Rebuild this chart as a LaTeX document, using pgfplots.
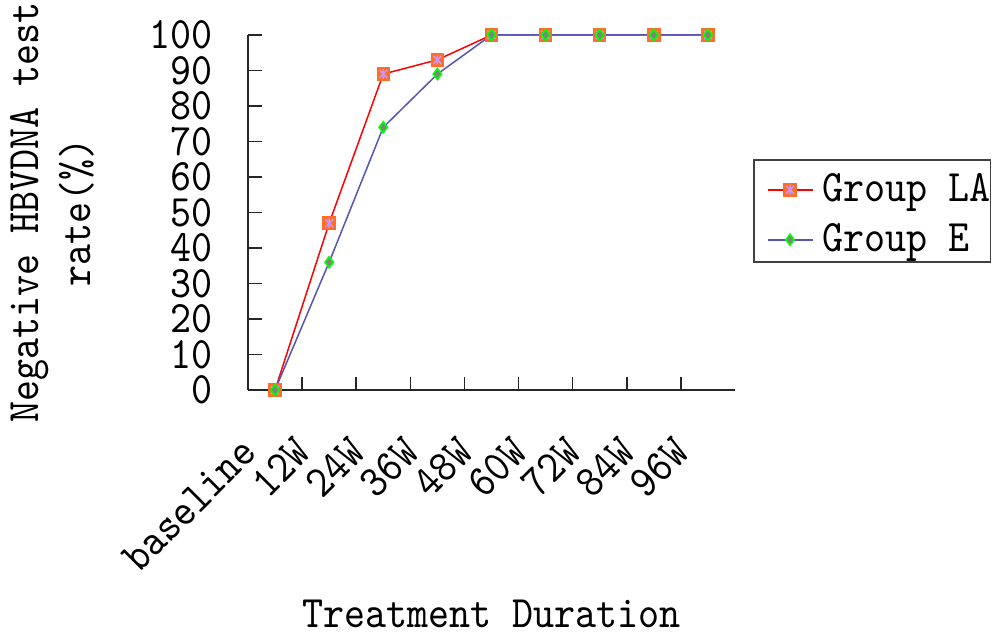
\documentclass[border=0pt]{standalone}
\usepackage{pgfplots}
\pgfplotsset{compat=1.18}
\usepackage{fontspec}
\setmainfont[FakeStretch=0.89]{lmmono10-regular.otf}
\definecolor{lared}{RGB}{255,0,0}
\definecolor{eblue}{RGB}{85,85,185}
\definecolor{markorange}{RGB}{255,110,40}
\definecolor{lavender}{RGB}{200,150,255}
\definecolor{egreen}{RGB}{0,255,0}
\definecolor{egray}{RGB}{128,128,128}
\pgfdeclareplotmark{sqx}{%
  \pgfpathrectangle{\pgfqpoint{-\pgfplotmarksize}{-\pgfplotmarksize}}{\pgfqpoint{2\pgfplotmarksize}{2\pgfplotmarksize}}%
  \pgfsetfillcolor{markorange}\pgfsetstrokecolor{markorange}\pgfusepathqfillstroke
  \pgfsetstrokecolor{lavender}%
  \pgfpathmoveto{\pgfqpoint{-0.65\pgfplotmarksize}{-0.65\pgfplotmarksize}}%
  \pgfpathlineto{\pgfqpoint{0.65\pgfplotmarksize}{0.65\pgfplotmarksize}}%
  \pgfpathmoveto{\pgfqpoint{-0.65\pgfplotmarksize}{0.65\pgfplotmarksize}}%
  \pgfpathlineto{\pgfqpoint{0.65\pgfplotmarksize}{-0.65\pgfplotmarksize}}%
  \pgfpathmoveto{\pgfqpoint{0pt}{-0.8\pgfplotmarksize}}%
  \pgfpathlineto{\pgfqpoint{0pt}{0.8\pgfplotmarksize}}%
  \pgfusepathqstroke}
\pgfplotstableread{
x LA E
0 0 0
1 47 36
2 89 74
3 93 89
4 100 100
5 100 100
6 100 100
7 100 100
8 100 100
}\datatable
\begin{document}
\begin{tikzpicture}
\begin{axis}[
  scale only axis,
  width=487pt, height=355pt,
  at={(0,0)}, anchor=south west,
  xmin=-0.5, xmax=8.5, ymin=0, ymax=100,
  axis x line*=bottom, axis y line*=left,
  axis line style={line width=1.6pt, black!85},
  font=\fontsize{45}{52}\selectfont,
  /pgf/number format/assume math mode=true,
  tick align=inside,
  xtick={0,...,8},
  xticklabels={baseline,12W,24W,36W,48W,60W,72W,84W,96W},
  major x tick style={draw=none},
  minor xtick={0.5,1.5,...,7.5},
  minor tick length=13pt,
  minor x tick style={line width=1.6pt, black!85},
  ytick={0,10,...,100},
  major tick length=14pt,
  major y tick style={line width=1.6pt, black!85},
  yticklabel style={anchor=east, inner sep=0pt, xshift=-35pt},
  xticklabel style={xshift=-26pt, yshift=-55pt, rotate=45, anchor=east, inner sep=0pt},
  xlabel={Treatment Duration},
  xlabel style={at={(axis description cs:0.5,-0.631)}, anchor=center, inner sep=0pt},
  ylabel={Negative HBVDNA test\\rate(\%)},
  ylabel style={at={(axis description cs:-0.4025,0.5)}, anchor=center, align=center, inner sep=0pt},
  legend style={at={(axis description cs:1.037,0.6507)}, anchor=north west,
    draw=black!75, line width=1.5pt, inner xsep=0pt, inner ysep=0pt,
    row sep=-2pt, column sep=9pt, cells={anchor=base west},
    nodes={inner sep=0pt, text height=42pt, text depth=10pt},
    font=\fontsize{45}{52}\selectfont},
  legend image code/.code={%
    \path (0pt,0pt);
    \draw[mark repeat=2,mark phase=2] plot coordinates {(13pt,12pt)(35.5pt,12pt)(58pt,12pt)};},
  clip=false,
]
\addplot[lared, line width=1.5pt, mark=sqx, mark size=6pt,
  mark options={line width=1.5pt}] table[x=x,y=LA] {\datatable};
\addlegendentry{Group LA}
\addplot[eblue, line width=1.5pt, mark=diamond*, mark size=5.5pt,
  mark options={fill=egray, draw=egreen, line width=1.6pt}] table[x=x,y=E] {\datatable};
\addlegendentry{Group E}
\end{axis}
\useasboundingbox (-248pt,-244pt) rectangle (745pt,390pt);
\end{tikzpicture}
\end{document}
